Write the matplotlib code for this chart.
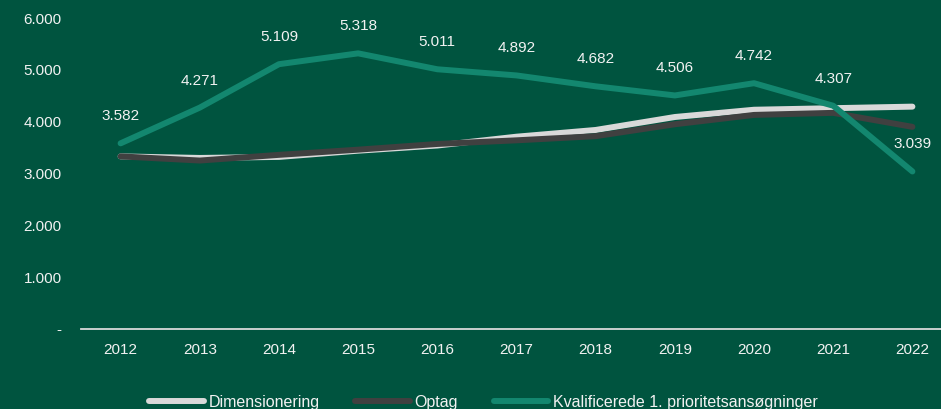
import matplotlib.pyplot as plt
from matplotlib.ticker import FuncFormatter

years = [2012, 2013, 2014, 2015, 2016, 2017, 2018, 2019, 2020, 2021, 2022]
dimensionering = [3330, 3300, 3320, 3440, 3540, 3710, 3840, 4090, 4230, 4260, 4290]
optag = [3330, 3250, 3360, 3460, 3570, 3640, 3720, 3950, 4130, 4170, 3900]
kvalificerede = [3582, 4271, 5109, 5318, 5011, 4892, 4682, 4506, 4742, 4307, 3039]

bg = '#00543f'
txt = '#f2f2f2'

plt.rcParams['font.family'] = ['Liberation Sans', 'DejaVu Sans']


def dk(v, pos=None):
    if v == 0:
        return '-'
    return f'{v:,.0f}'.replace(',', '.')


fig = plt.figure(figsize=(9.41, 4.09), dpi=100, facecolor=bg)
ax = fig.add_axes([81 / 941, 80 / 409, 871 / 941, 311 / 409], facecolor=bg)

lw = 4.3
ax.plot(years, dimensionering, color='#d9d9d9', lw=lw, solid_capstyle='round',
        solid_joinstyle='round', label='Dimensionering')
ax.plot(years, optag, color='#404040', lw=lw, solid_capstyle='round',
        solid_joinstyle='round', label='Optag')
ax.plot(years, kvalificerede, color='#13876f', lw=lw, solid_capstyle='round',
        solid_joinstyle='round', label='Kvalificerede 1. prioritetsansøgninger')

for x, v in zip(years, kvalificerede):
    ax.annotate(dk(v), (x, v), xytext=(0, 19.5), textcoords='offset points',
                ha='center', va='center', color=txt, fontsize=11)

ax.set_xlim(2011.5, 2022.5)
ax.set_ylim(0, 6000)
ax.set_yticks(range(0, 6001, 1000))
ax.yaxis.set_major_formatter(FuncFormatter(dk))
ax.set_xticks(years)

for s in ['top', 'right', 'left']:
    ax.spines[s].set_visible(False)
ax.spines['bottom'].set_color('#d9d9d9')
ax.spines['bottom'].set_linewidth(1.3)
ax.tick_params(axis='both', length=0, colors=txt, labelsize=11)
ax.tick_params(axis='x', pad=10)
ax.tick_params(axis='y', pad=14)

leg = fig.legend(loc='center', bbox_to_anchor=(0.5 + 13 / 941, 7 / 409), ncol=3,
                 frameon=False, handlelength=3.4, handletextpad=0.3,
                 columnspacing=2.25, prop={'size': 11.5})
for t in leg.get_texts():
    t.set_color(txt)

plt.savefig('out.png', dpi=100, facecolor=bg)
plt.close()
